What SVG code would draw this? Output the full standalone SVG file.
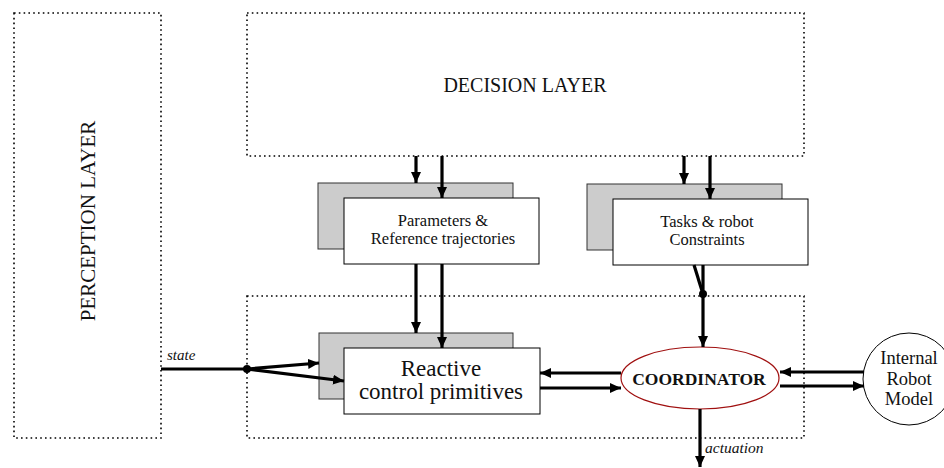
<svg xmlns="http://www.w3.org/2000/svg" width="944" height="468" viewBox="0 0 944 468">
<defs>
<marker id="ah" markerUnits="userSpaceOnUse" markerWidth="12" markerHeight="10" refX="11" refY="5" orient="auto">
<path d="M0,0 L11,5 L0,10 Z" fill="#000"/>
</marker>
<style>
.layer{fill:none;stroke:#000;stroke-width:1.6;stroke-dasharray:1.6 3.2}
.shadow{fill:#cccccc;stroke:#333;stroke-width:1}
.box{fill:#fff;stroke:#000;stroke-width:1}
.t{font-family:'Liberation Serif','DejaVu Serif',serif;fill:#111;text-anchor:middle}
.it{font-family:'Liberation Serif','DejaVu Serif',serif;font-style:italic;fill:#111}
.c{fill:none;stroke:#000;stroke-width:3.2;marker-end:url(#ah)}
.l{fill:none;stroke:#000;stroke-width:3.2}
</style>
</defs>
<rect width="944" height="468" fill="#fff"/>

<g id="perception-layer">
<rect class="layer" x="14" y="13" width="147" height="425"/>
<text class="t" font-size="21" transform="translate(95,221) rotate(-90)">PERCEPTION LAYER</text>
</g>

<g id="decision-layer">
<rect class="layer" x="247" y="13" width="557" height="143"/>
<text class="t" font-size="20" x="525" y="92">DECISION LAYER</text>
</g>

<g id="execution-layer">
<rect class="layer" x="247" y="296" width="557" height="142"/>
</g>

<g id="parameters">
<rect class="shadow" x="318" y="183" width="195" height="66"/>
<rect class="box" x="344" y="198" width="195" height="66"/>
<text class="t" font-size="16.5" x="443" y="226">Parameters &amp;</text>
<text class="t" font-size="16.5" x="443" y="244">Reference trajectories</text>
</g>

<g id="tasks">
<rect class="shadow" x="587" y="184" width="195" height="66"/>
<rect class="box" x="613" y="199" width="195" height="66"/>
<text class="t" font-size="16.5" x="707" y="227">Tasks &amp; robot</text>
<text class="t" font-size="16.5" x="707" y="245">Constraints</text>
</g>

<g id="reactive">
<rect class="shadow" x="319" y="333" width="194" height="66"/>
<rect class="box" x="344" y="348" width="196" height="66"/>
<text class="t" font-size="23" x="441" y="376">Reactive</text>
<text class="t" font-size="23" x="441" y="399">control primitives</text>
</g>

<g id="coordinator">
<ellipse cx="700" cy="378" rx="79" ry="31" fill="#fff" stroke="#a01010" stroke-width="1.2"/>
<text class="t" font-size="17.5" font-weight="bold" x="699" y="385">COORDINATOR</text>
</g>

<g id="internal-model">
<circle cx="909" cy="379" r="46" fill="#fff" stroke="#000" stroke-width="1"/>
<text class="t" font-size="18.5" x="909" y="364">Internal</text>
<text class="t" font-size="18.5" x="909" y="384.5">Robot</text>
<text class="t" font-size="18.5" x="909" y="405">Model</text>
</g>

<g id="connectors">
<line class="c" x1="416" y1="156" x2="416" y2="183"/>
<line class="c" x1="442" y1="156" x2="442" y2="198"/>
<line class="c" x1="684" y1="156" x2="684" y2="184"/>
<line class="c" x1="710" y1="156" x2="710" y2="199"/>
<line class="c" x1="416" y1="264" x2="416" y2="333"/>
<line class="c" x1="442" y1="264" x2="442" y2="348"/>
<line class="l" x1="694" y1="265" x2="703" y2="294"/>
<line class="l" x1="703" y1="265" x2="703" y2="294"/>
<circle cx="703" cy="294" r="4" fill="#000"/>
<line class="c" x1="703" y1="294" x2="703" y2="347"/>
<line class="l" x1="161" y1="369" x2="247" y2="369"/>
<circle cx="247" cy="369" r="4" fill="#000"/>
<line class="c" x1="247" y1="369" x2="319" y2="363"/>
<line class="c" x1="247" y1="369" x2="344" y2="381"/>
<line class="c" x1="621" y1="373" x2="540" y2="373"/>
<line class="c" x1="540" y1="388" x2="621" y2="388"/>
<line class="c" x1="864" y1="372" x2="780" y2="372"/>
<line class="c" x1="780" y1="386" x2="864" y2="386"/>
<line class="c" x1="700" y1="409" x2="700" y2="467"/>
<text class="it" font-size="15" x="167" y="360">state</text>
<text class="it" font-size="15.5" x="705" y="453">actuation</text>
</g>
</svg>
